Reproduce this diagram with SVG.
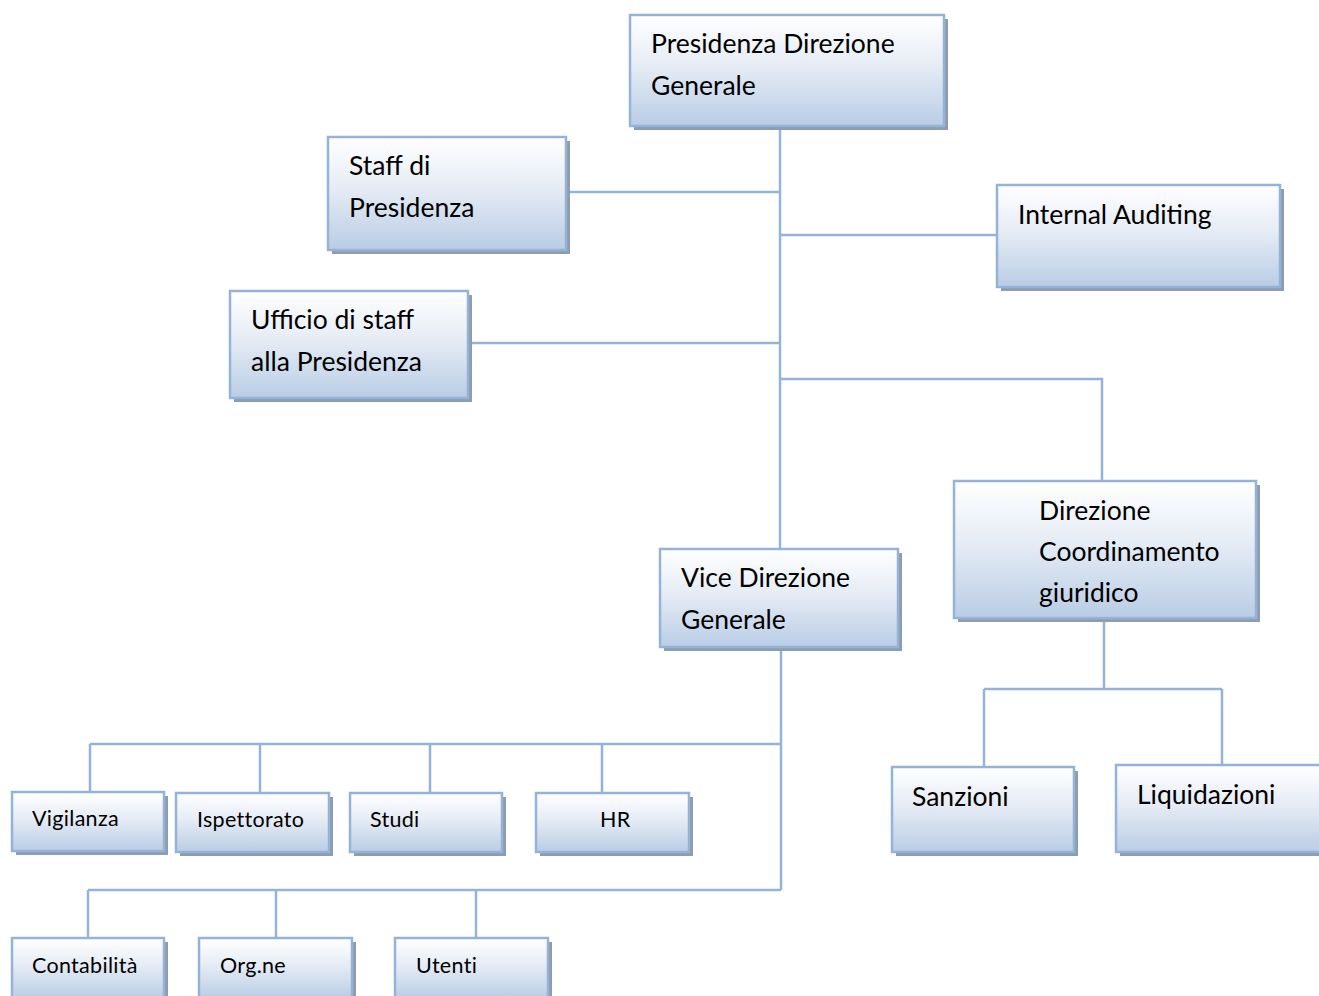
<svg xmlns="http://www.w3.org/2000/svg" width="1319" height="996" viewBox="0 0 1319 996">
  <defs>
    <linearGradient id="boxFill" x1="0" y1="0" x2="0" y2="1">
      <stop offset="0" stop-color="#ffffff"/>
      <stop offset="0.45" stop-color="#e6ecf5"/>
      <stop offset="1" stop-color="#b9cde5"/>
    </linearGradient>
  </defs>
  <style>
    .shadow { fill: #8d9cb0; }
    .box { fill: url(#boxFill); stroke: #95b3d7; stroke-width: 2.5; }
    .big { font-family: Lato, "Liberation Sans", sans-serif; font-size: 26.5px; fill: #000; }
    .small { font-family: Lato, "Liberation Sans", sans-serif; font-size: 21.5px; letter-spacing: 0.3px; fill: #000; }
    #connectors path { fill: none; stroke: #95b3d7; stroke-width: 2.5; }
  </style>
  <rect width="1319" height="996" fill="#ffffff"/>

  <g id="connectors">
    <path d="M780 126 V549"/>
    <path d="M566 192 H780"/>
    <path d="M780 235 H997"/>
    <path d="M468 343 H780"/>
    <path d="M780 379 H1102 V481"/>
    <path d="M781 647 V890"/>
    <path d="M90 744 H781"/>
    <path d="M90 744 V792 M260 744 V793 M430 744 V793 M602 744 V793"/>
    <path d="M88 890 H781"/>
    <path d="M88 890 V938 M276 890 V938 M476 890 V938"/>
    <path d="M1104 618 V689"/>
    <path d="M984 689 H1222"/>
    <path d="M984 689 V767 M1222 689 V765"/>
  </g>

  <g id="presidenza">
    <rect class="shadow" x="634" y="19" width="314" height="111"/>
    <rect class="box" x="630" y="15" width="314" height="111"/>
    <text class="big" x="651" y="53">Presidenza Direzione</text>
    <text class="big" x="651" y="95">Generale</text>
  </g>

  <g id="staff">
    <rect class="shadow" x="332" y="141" width="238" height="113"/>
    <rect class="box" x="328" y="137" width="238" height="113"/>
    <text class="big" x="349" y="175">Staff di</text>
    <text class="big" x="349" y="217">Presidenza</text>
  </g>

  <g id="internal-auditing">
    <rect class="shadow" x="1001" y="189" width="283" height="102"/>
    <rect class="box" x="997" y="185" width="283" height="102"/>
    <text class="big" x="1018" y="224">Internal Auditing</text>
  </g>

  <g id="ufficio-staff">
    <rect class="shadow" x="234" y="295" width="238" height="107"/>
    <rect class="box" x="230" y="291" width="238" height="107"/>
    <text class="big" x="251" y="329">Ufficio di staff</text>
    <text class="big" x="251" y="371">alla Presidenza</text>
  </g>

  <g id="direzione-coordinamento">
    <rect class="shadow" x="958" y="485" width="302" height="137"/>
    <rect class="box" x="954" y="481" width="302" height="137"/>
    <text class="big" x="1039" y="520">Direzione</text>
    <text class="big" x="1039" y="561">Coordinamento</text>
    <text class="big" x="1039" y="602">giuridico</text>
  </g>

  <g id="vice-direzione">
    <rect class="shadow" x="664" y="553" width="238" height="98"/>
    <rect class="box" x="660" y="549" width="238" height="98"/>
    <text class="big" x="681" y="587">Vice Direzione</text>
    <text class="big" x="681" y="629">Generale</text>
  </g>

  <g id="sanzioni">
    <rect class="shadow" x="896" y="771" width="182" height="85"/>
    <rect class="box" x="892" y="767" width="182" height="85"/>
    <text class="big" x="912" y="806">Sanzioni</text>
  </g>

  <g id="liquidazioni">
    <rect class="shadow" x="1120" y="769" width="210" height="87"/>
    <rect class="box" x="1116" y="765" width="210" height="87"/>
    <text class="big" x="1137" y="804">Liquidazioni</text>
  </g>

  <g id="vigilanza">
    <rect class="shadow" x="16" y="796" width="152" height="59"/>
    <rect class="box" x="12" y="792" width="152" height="59"/>
    <text class="small" x="32" y="826">Vigilanza</text>
  </g>

  <g id="ispettorato">
    <rect class="shadow" x="180" y="797" width="153" height="59"/>
    <rect class="box" x="176" y="793" width="153" height="59"/>
    <text class="small" x="197" y="827">Ispettorato</text>
  </g>

  <g id="studi">
    <rect class="shadow" x="354" y="797" width="152" height="59"/>
    <rect class="box" x="350" y="793" width="152" height="59"/>
    <text class="small" x="370" y="827">Studi</text>
  </g>

  <g id="hr">
    <rect class="shadow" x="540" y="797" width="153" height="59"/>
    <rect class="box" x="536" y="793" width="153" height="59"/>
    <text class="small" x="600" y="827">HR</text>
  </g>

  <g id="contabilita">
    <rect class="shadow" x="16" y="942" width="152" height="60"/>
    <rect class="box" x="12" y="938" width="152" height="60"/>
    <text class="small" x="32" y="973">Contabilità</text>
  </g>

  <g id="organizzazione">
    <rect class="shadow" x="203" y="942" width="153" height="60"/>
    <rect class="box" x="199" y="938" width="153" height="60"/>
    <text class="small" x="220" y="973">Org.ne</text>
  </g>

  <g id="utenti">
    <rect class="shadow" x="399" y="942" width="153" height="60"/>
    <rect class="box" x="395" y="938" width="153" height="60"/>
    <text class="small" x="416" y="973">Utenti</text>
  </g>
</svg>
